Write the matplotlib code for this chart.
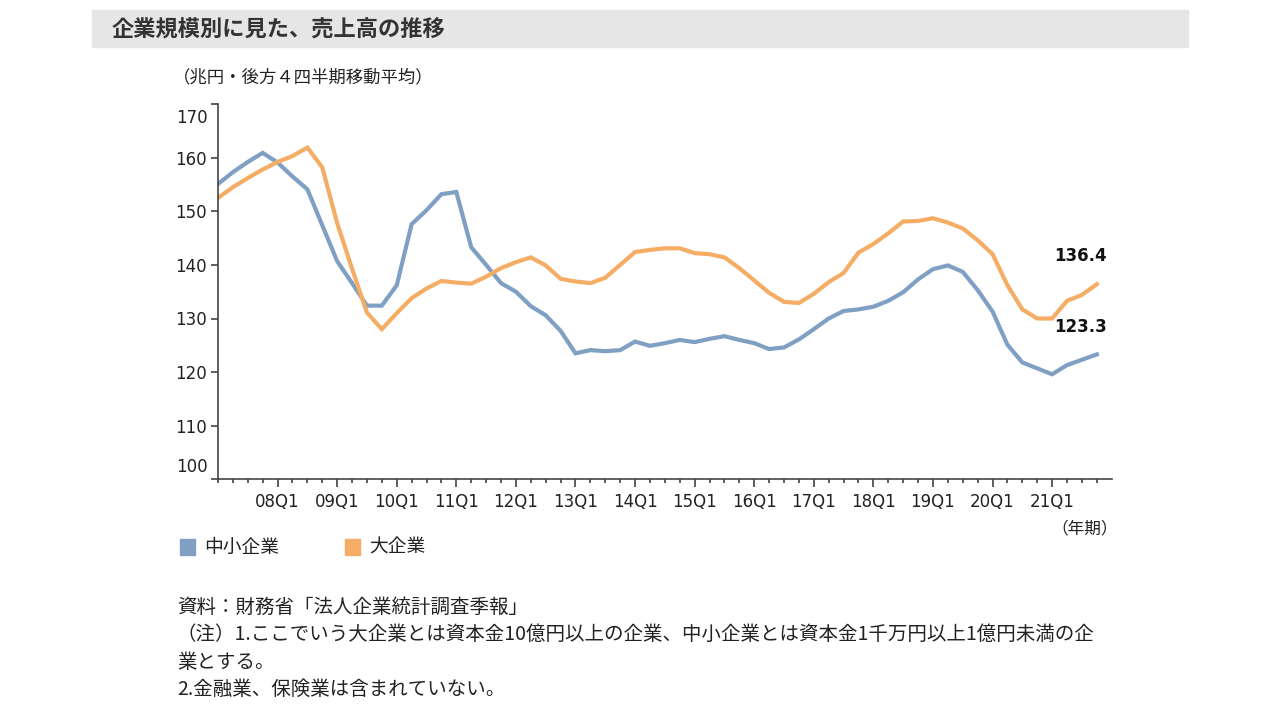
import matplotlib
matplotlib.use("Agg")
import matplotlib.pyplot as plt
import matplotlib.patches as mpatches
from matplotlib.transforms import ScaledTranslation

plt.rcParams['font.family'] = ['DejaVu Sans', 'Noto Sans CJK JP']
JP = ['Noto Sans CJK JP', 'DejaVu Sans']

# ── data (兆円, backward 4-quarter moving average), 07Q1 .. 21Q4 ──
sme = [155.1, 157.3, 159.2, 160.9, 159.1, 156.5, 154.1, 147.4, 140.7, 136.6,
       132.4, 132.4, 136.2, 147.6, 150.2, 153.2, 153.6, 143.3, 140.0, 136.6,
       135.0, 132.3, 130.6, 127.7, 123.5, 124.1, 123.9, 124.1, 125.7, 124.9,
       125.4, 126.0, 125.6, 126.2, 126.7, 126.0, 125.4, 124.3, 124.6, 126.1,
       128.0, 130.0, 131.4, 131.7, 132.2, 133.3, 134.9, 137.3, 139.2, 139.9,
       138.7, 135.3, 131.3, 125.1, 121.8, 120.7, 119.6, 121.3, 122.3, 123.3]
large = [152.5, 154.5, 156.2, 157.8, 159.2, 160.3, 161.9, 158.2, 147.8, 139.3,
         131.1, 128.0, 131.0, 133.8, 135.6, 137.0, 136.7, 136.5, 137.8, 139.4,
         140.5, 141.4, 139.9, 137.4, 136.9, 136.6, 137.6, 140.0, 142.4, 142.8,
         143.1, 143.1, 142.2, 142.0, 141.4, 139.4, 137.1, 134.8, 133.1, 132.9,
         134.6, 136.8, 138.5, 142.3, 143.9, 145.9, 148.1, 148.2, 148.7, 147.9,
         146.8, 144.6, 142.0, 136.2, 131.7, 130.0, 130.0, 133.3, 134.4, 136.4]
year_labels = ['08Q1', '09Q1', '10Q1', '11Q1', '12Q1', '13Q1', '14Q1',
               '15Q1', '16Q1', '17Q1', '18Q1', '19Q1', '20Q1', '21Q1']
series_names = ['中小企業', '大企業']

BLUE = '#7f9fc3'
ORANGE = '#f5ad66'
TXT = '#222222'

W, H = 1280, 720


def px(x, y):
    return x / W, 1 - y / H


fig = plt.figure(figsize=(12.8, 7.2), dpi=100)

# title bar
fig.patches.append(mpatches.Rectangle(px(92, 47), 1096 / W, 37 / H,
                                      transform=fig.transFigure, color='#e6e6e6', zorder=0))
fig.text(*px(112, 30), '企業規模別に見た、売上高の推移', family=JP, fontsize=16,
         fontweight='bold', color='#333333', va='center', ha='left')
fig.text(*px(173, 77), '（兆円・後方４四半期移動平均）', family=JP, fontsize=12.5,
         color=TXT, va='center', ha='left')

l, b = px(218, 479.3)
r, t = px(1111.7, 104.1)
ax = fig.add_axes([l, b, r - l, t - b])

q = list(range(len(sme)))
ax.plot(q, sme, color=BLUE, lw=3, solid_joinstyle='miter')
ax.plot(q, large, color=ORANGE, lw=3, solid_joinstyle='miter')

ax.set_xlim(0, 60)
ax.set_ylim(100, 170)
for s in ['top', 'right']:
    ax.spines[s].set_visible(False)
for s in ['left', 'bottom']:
    ax.spines[s].set_color('#444444')
    ax.spines[s].set_linewidth(1.2)

major = [4 * (i + 1) for i in range(len(year_labels))]
ax.set_xticks(major)
ax.set_xticklabels(year_labels, fontsize=12, color=TXT)
ax.set_xticks(q, minor=True)
ax.tick_params(axis='x', which='major', length=6, width=1.2, color='#444444', pad=4)
ax.tick_params(axis='x', which='minor', length=3, width=1.2, color='#444444')

yt = list(range(100, 171, 10))
ax.set_yticks(yt)
ax.set_yticklabels(['' if v in (100, 170) else str(v) for v in yt], fontsize=12, color=TXT)
ax.tick_params(axis='y', length=5, width=1.2, color='#444444', pad=3)
# end labels sit slightly inside the axis range
ytr = ax.get_yaxis_transform()
ax.text(0, 100, '100', transform=ytr + ScaledTranslation(-10 / 100, 12 / 100, fig.dpi_scale_trans),
        ha='right', va='center', fontsize=12, color=TXT)
ax.text(0, 170, '170', transform=ytr + ScaledTranslation(-10 / 100, -14 / 100, fig.dpi_scale_trans),
        ha='right', va='center', fontsize=12, color=TXT)

# end value labels
for vals in (large, sme):
    ax.annotate(f'{vals[-1]:.1f}', xy=(q[-1], vals[-1]), xytext=(-12, 20),
                textcoords='offset points', ha='center', va='center',
                fontsize=12, fontweight='bold', color='#111111')

fig.text(*px(1118, 529), '（年期）', family=JP, fontsize=12, color=TXT, ha='right', va='center')

# legend
for (x0, name, c) in [(180, series_names[0], BLUE), (345, series_names[1], ORANGE)]:
    fig.patches.append(mpatches.Rectangle(px(x0, 555), 15 / W, 16 / H,
                                          transform=fig.transFigure, color=c))
    fig.text(*px(x0 + 24, 547), name, family=JP, fontsize=13.5, color=TXT, va='center', ha='left')

notes = [
    '資料：財務省「法人企業統計調査季報」',
    '（注）1.ここでいう大企業とは資本金10億円以上の企業、中小企業とは資本金1千万円以上1億円未満の企',
    '業とする。',
    '2.金融業、保険業は含まれていない。',
]
for i, line in enumerate(notes):
    fig.text(*px(177, 607 + 27.5 * i), line, family=JP, fontsize=14, color=TXT,
             va='center', ha='left')

fig.savefig('out.png', dpi=100)
